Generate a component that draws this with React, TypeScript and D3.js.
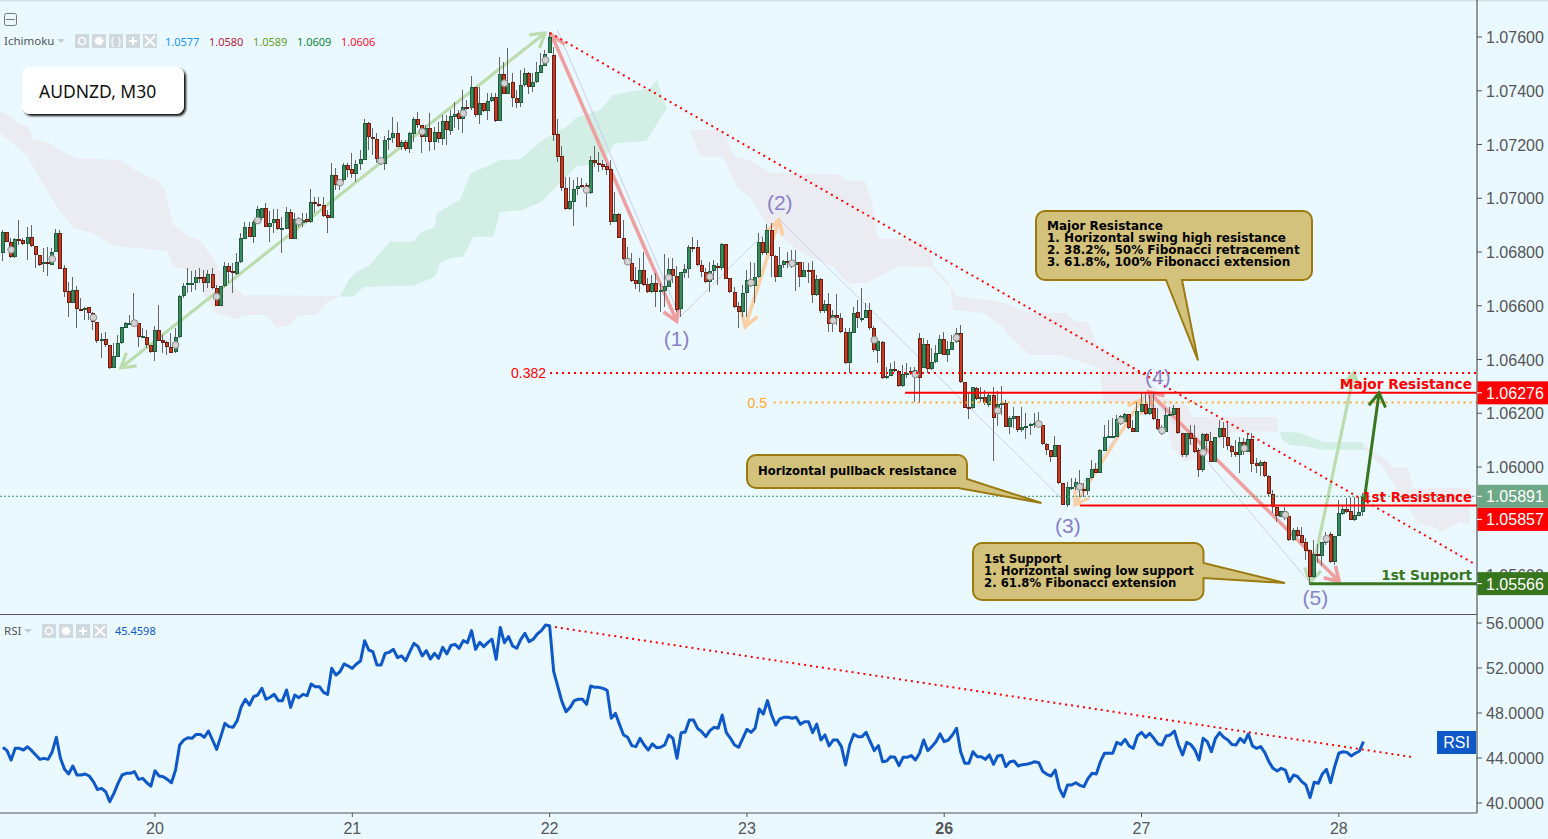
import { scaleLinear, line, path as d3path } from "d3";

// all candle and cloud values are pips above 1.05000, [open, high, low, close]
type Bar = [number, number, number, number];

const day19: Bar[] = [
  [179.5,188.2,176.8,187.3],[187.3,187.3,183.9,183.9],[183.9,185.1,177.7,178],[178,185.1,177.7,184.7],[184.7,191.9,182.6,184.2],
  [184.5,185.1,182.6,182.9],[182.9,189.4,177,185.5],[185.5,190.1,182,182.2],[182.4,182.4,174,178.7],[178.8,178.8,174.8,175.2],
  [175.4,181.4,172.7,176.2],[176.2,182,171.2,175.4],[175.2,181.4,175.2,180.1],[180.1,188.4,180.1,187],[187,188.2,173.6,173.8],
  [174,175,163.4,165.3],[165.5,169,155.7,161.2],[161.2,170.6,160.9,165.9],[165.9,167.4,151.9,158.7],[158.8,162.8,158.2,158.6],
  [158.6,159.7,154.7,159.3],[159.4,159.7,154.7,157.2],[157.2,157.8,151,153.8],[154,154,146,146.7],[146.7,149.8,140.5,147.5],
  [147.5,150.3,144.8,145.3],[145.3,145.3,136.4,137],[137,146,136.7,141.3],[141.1,149.1,140.8,146],[146,152,145.8,152],
  [151.6,154.1,151.6,153.5],[153.2,156.6,152.9,153.6],[153.7,164.6,152.9,152.9],[153.7,153.7,144.8,148.3],[148.3,151.6,147.9,148.8],
  [148.5,151,144.2,145.3],[145.3,145.3,142.6,142.7],
];
const day20: Bar[] = [
  [142.7,152.5,139.6,150.8],[150.8,160.3,146.7,147],[147.3,149.1,142.3,146.3],[146.4,146.7,141.7,144.8],[144.8,149.8,142.3,142.6],
  [142.7,151.6,142.6,148.3],[148.3,164,147.9,163.8],[163.8,168.4,163,167.5],[167.6,174,164.6,168.4],[168.2,173,165.3,168.5],
  [168.4,173.3,165.9,170.6],[170.6,174,168.4,170.5],[170.6,173.3,165.3,168.4],[168.4,173.3,166.5,171.7],[171.7,174,166.1,166.5],
  [166.5,167.7,160,160],[160,167.4,160,167.4],[167.4,176.4,167.1,174.8],[174.8,175.8,168.4,172.7],[173,175.8,164.6,172.1],
  [171.8,179.5,171.5,176.2],[176.2,187,175.8,185.1],[184.9,191.3,184.7,189.4],[189.4,191.3,185.5,185.7],[185.7,192,183.5,191.1],
  [191.1,197.1,190.4,195.9],[192.5,196.3,192,196.3],[196.3,198.4,189.2,189.4],[189.4,195.4,183.9,190.9],[190.9,195.9,187,192.2],
  [192.2,195.9,188.2,188.5],[188.5,193.2,179.5,188.8],[188.7,196.9,188.4,194.9],[194.9,195.9,185,185],[185,194.4,184.7,192.4],
  [192.4,193.2,189.4,192],[190.7,194.4,189.4,192],[192.2,194.4,190.7,191.3],[191.3,203.3,190.9,198.5],[198.6,200.6,194.4,197.7],
  [197.7,200.6,196.9,197.1],[197.4,200.6,193.2,193.5],[193.6,195.6,187,192.5],[192.5,213,192.5,208.5],[208.5,211.1,203.1,204.8],
  [204.5,206.2,203,206],[206.8,213,206.2,212.3],[212.3,213,208,210.5],
];
const day21: Bar[] = [
  [210.8,217,207.4,209],[209,214.2,206.2,212.8],[212.8,218,210.5,214.5],[214.2,229.5,214.2,227.9],[227.9,228.5,218,222.7],
  [222.7,226,216.1,222],[222,224.2,213,214.5],[214.5,214.9,212.4,212.8],[212.8,223,210.5,221.6],[221.6,225.4,218,222.3],
  [222.3,230.4,220.4,224.2],[224.2,228.5,219,219.2],[219.2,221.7,218,220.8],[220.8,221.7,217.7,218.3],[218.3,224.8,216.7,224.2],
  [224,230.1,221,229.5],[229.5,232.2,226,227.1],[227.1,227.1,217,222.7],[222.7,227.3,221,226],[226,231.6,217.7,221],
  [221,226.6,218,224.8],[224.5,228.5,220.4,222.2],[222.2,231,219.8,228.8],[228.8,231,219.8,225.4],[225.2,232.8,223.5,230.6],
  [230.4,236,226,231.2],[231.6,232.8,225.4,229.4],[229.4,240.3,224.2,234.1],[234.1,236.6,232.8,233.3],[233.4,245.5,232.8,241.3],
  [241.3,241.3,230.4,231],[230.8,241.3,227.6,235.3],[235.3,235.3,232.2,232.6],[232.6,239,229,236],[236,239,236,237.6],
  [237.6,239,228.5,228.9],[228.9,252.7,228.9,246.2],[246.2,250.8,238.8,238.8],[238.8,255.8,238.8,242.8],[243.1,246.5,233.8,237.2],
  [237.2,240.3,233.5,235.6],[235.6,247.7,234,242.1],[242.1,248.3,241.5,246.5],[246.5,247.1,238.8,241.5],[241.5,246.5,239.6,243.2],
  [243.1,250.8,242.8,247.1],[246.7,253.9,246.5,249.6],[249.3,255.2,249.3,253.5],
];
const day22: Bar[] = [
  [253.9,261.9,253.9,260.1],[253.3,256.4,221.4,223.5],[223.8,229.5,213.6,215.5],[215.7,219.4,202.8,203.7],[203.7,208,195.6,196],
  [196,208,195.6,199],[198.7,206.8,189.8,203.3],[203.3,208,201.2,204.6],[205,207.4,203.7,204.3],[205,205.6,196.9,201.8],
  [201.8,215.7,201.6,214.2],[214.2,219.4,211.8,213],[213,217.3,209.9,212.4],[212.7,214.2,210.5,211.7],[212,213,208.7,210.5],
  [210.9,214.2,190,191.3],[191.3,202.5,191.3,194.1],[194.1,194.4,185.1,185.1],[185.1,191.9,177,177.4],[175.2,182,175.2,177.7],
  [175.8,179.5,169,169.3],[169.6,174.6,166.1,168.1],[168.1,177.7,165.3,173.3],[173.3,180.1,167.4,167.7],[168,170.2,164.9,165.3],
  [165.3,171.5,164.9,168.4],[168.4,172.1,159.7,165.3],[165.3,168.4,157.8,165.9],[165.6,179.3,159.7,167.3],[167.1,177.7,167.1,173.6],
  [173.6,177.7,168.3,171.1],[171.2,174.8,157.8,158.4],[158.7,172.7,156,172.4],[172.3,175.6,170.2,173.6],[173.6,182.6,170.2,181.7],
  [181.7,185.7,180.1,181.5],[181.7,184.4,174.8,175],[175,177,170.8,172.4],[172.4,173.9,168.4,168.7],[168.7,176.4,165.3,173],
  [173,177,169.6,175],[174.9,175.8,167.7,173.9],[173.9,183.5,173.3,183],[183,183,169.8,170.1],[170.2,170.2,164.6,165],
  [165,167.1,159,159.7],[159.9,161.5,151.6,157.8],[157.8,167.7,156,164.6],
];
const day23: Bar[] = [
  [164.6,173.3,156,169.6],[169.8,176.4,167.1,167.3],[167.3,175.8,160.9,170.6],[170.6,187,170.2,183.6],[183.6,185.7,178.9,179.5],
  [179.5,190.4,178.9,188.2],[188.2,190.7,170.8,178.6],[178.6,178.9,169,170.8],[170.8,182,170.8,175.2],[175,177,173.9,176.7],
  [176.7,180.1,173.9,176.2],[176.4,180.8,173.9,175.2],[175.2,180.8,165.6,176.4],[176.2,176.4,167.1,170.8],[170.8,176.4,170.8,173.3],
  [173.3,175.8,168.4,173.2],[173.3,176.8,160.9,164],[164,171.5,163.6,170],[170,170.2,157.2,158],[158,162.2,157.2,160.5],
  [160.5,164.6,150.4,153.1],[153.1,158.4,150.4,156.6],[156.6,164.4,152.9,155.6],[155.6,157.2,149.8,150.4],[150.4,151.6,138.3,138.6],
  [138.6,151.6,134.9,150.1],[150,159.7,149.8,157.4],[157.5,162.2,151.6,155.3],[155.1,166.5,154.1,155.6],[155.6,160.9,155.3,158.4],
  [158.4,160.9,151,151.6],[151.6,152.5,142.9,143.6],[143.3,146.7,138.8,146.7],[146.4,146.7,132.7,133],[133,137.3,132.7,134],
  [134,138.6,133.9,136.4],[136.4,139.6,135.5,135.9],[135.9,136.1,129.9,130.3],[130.3,138,129.9,134.6],[134.6,138.8,133,134.9],
  [135.9,137.3,134.2,134.9],[134.2,137.3,124.3,136.1],[147.9,149.8,123.7,133],[137,147.9,136.7,145.8],[145.8,147.3,134.9,136.4],
  [136.4,144.2,136.1,139.2],[139,145.4,138.6,142.3],[142,149.1,141.9,147.5],
];
const day26: Bar[] = [
  [147.5,150.4,141.5,141.7],[141.7,146.7,139.2,143.8],[143.6,149.1,143.6,146.4],[146.4,151.6,146,150],[150,152.9,131.4,131.8],
  [131.8,131.8,121.9,122.1],[122.5,127.4,117.8,121.9],[121.9,129.9,121.5,129.7],[129.5,129.9,125,125.2],[125.2,129.9,124.3,126],
  [126,128.7,123.1,123.7],[123.1,127.4,122.5,126.7],[126.7,129.9,102.3,118.1],[119.6,128.1,115.4,123.4],[123.1,130,119.4,123.7],
  [123.7,125,114.7,115],[115,118.8,112.2,118.1],[118,122.5,114.4,118.8],[119.1,119.1,113,113.6],[113.6,122.2,113.2,114.8],
  [114.8,120,110.5,115.3],[115.1,116.3,112,116],[115.7,120,114.4,116.5],[116.9,120.6,115,115.7],[115.7,115.7,108.2,108.5],
  [108.5,108.9,104.5,106.2],[106.2,106.4,101.8,103.9],[103.9,111.6,103.9,108.2],[108.2,108.2,93.6,94],[94,94,85.7,85.7],
  [85.7,94.6,85.3,92.5],[92.5,95.8,91.5,92.6],[92.4,95.8,91.5,94.3],[94,98.9,89,91.5],[91.7,94,89,90.9],
  [90.9,95.8,89.4,95.8],[95.8,102.6,95.6,99.3],[99.3,101.4,97.7,97.9],[97.9,106.7,97.7,106.4],[106.1,115.7,106,111.1],
  [111.1,117.5,110.7,111.4],[111.3,118.1,110.7,111.6],[111.3,119.4,111.1,117.8],[116,119.4,115.7,119.1],[116.9,120,116.9,119.6],
  [119.6,119.6,114.2,114.4],[114.4,117.5,112.9,113.2],[113.2,124.3,113.2,120.9],
];
const day27: Bar[] = [
  [120.6,127.4,120.6,123.5],[123.5,127.4,119.4,119.6],[119.6,126.8,119.4,122],[122,127.4,117.5,117.8],[117.8,121.9,113.8,114.1],
  [112.6,115.7,112,114.4],[113,121.9,113,119.4],[119.1,122.5,119,119.8],[119.4,123.1,119.1,122],[121.9,122.1,112.3,112.6],
  [112.6,112.6,103.9,104.3],[104.3,112.6,103.9,112.6],[112.6,115.7,108.2,110.6],[110.7,115.7,105.1,105.7],[106.4,107,96.2,98.7],
  [98.7,112.6,98.3,112.2],[112.2,112.6,105.7,109.8],[109.8,113.2,102,102],[102,111,101.8,111],[111,117.5,110.7,114.4],
  [114.4,116.9,107,111],[111,116.3,106.4,108],[108,108.2,103.9,105.5],[105.5,110.1,103.9,104.3],[104.3,111,97.7,109.2],
  [109.2,110.7,104.5,105.7],[105.5,112.6,105.4,110.3],[110.3,112.6,98.3,101.3],[101.4,103.3,97.7,100.5],[100.5,102.6,96.7,101.8],
  [101.8,102.4,96.4,96.8],[96.8,97.1,89.2,89.9],[89.9,91.5,83,85],[85,85.3,79.7,81.6],[81.3,83.8,81.3,83.5],
  [83.5,85.3,80.3,81.6],[81.6,81.8,72.3,72.9],[72.9,77.2,72.6,76.6],[76.6,77.6,74.1,74.4],[74.6,77.8,71.6,71.9],
  [72,73.5,65.4,68.9],[69,69.2,56.1,59.2],[59.2,72.9,58.6,67.7],[67.7,71.4,64.2,66.7],[66.7,72,63,72],
  [71.6,76,71,74.1],[75.1,76,64.4,64.8],[64.8,74.4,63.6,74.4],
];
const day28: Bar[] = [
  [74.4,87.8,74.4,82.8],[82.6,85.9,82.2,84.3],[84.3,88.4,82.8,83.4],[83.7,89,80.1,80.1],[80.1,89,80,82.2],[81.9,89,81.8,83.3],[83.1,90.2,81.8,89],
];
const bars = [...day19, ...day20, ...day21, ...day22, ...day23, ...day26, ...day27, ...day28];
const FIRST_BAR = -37; // bar 0 is the first candle of the 20th

// grey dots every 10 candles, starting from bar -35
const dotPrices = [180.8,177.4,155.6,153.5,145.4,163.4,191.7,191.3,205.8,213.9,224.8,231.6,242.8,251.4,203.1,176.4,170.5,170.8,168.6,175.8,154.5,147.3,134.5,148.1,121,116,92.6,117.3,113.6,105.4,107,82.2,73.3];

// clouds: outline as bar / pip pairs
const cloudGrey1Bars = [-37.7,-35.3,-32.8,-30.8,-29.6,-26.3,-23.9,-20.7,-19,-8.5,-3.6,0.4,2.4,4.5,8.5,11,13.8,15.8,17.5,21.5,45,41.8,39.3,34.9,32.9,29.6,27.2,21.5,19.9,15,11.8,11,7.7,4.5,2.9,-10.1,-15,-19.9,-23.9,-28.8,-31.2,-34.5,-37.7];
const cloudGrey1Pips = [232.5,230.4,227.6,226.9,221.7,221.1,218.6,216.1,214.9,214.2,209.3,206.8,203.1,190.1,185.7,184.5,178.3,173.3,169.6,164,163.6,160.9,156.6,156.6,152.9,151.6,156.6,156.6,155,157.2,164.6,170.8,173.3,174.6,180.5,182.2,187,188.8,196.9,209.3,216.1,220.4,224.2];
const cloudGreen1Bars = [45,47.1,49.1,51.9,57.2,62.9,64.5,68.1,68.5,74.2,76.7,79.1,83.9,88.8,94.4,100.1,102.6,108.2,111.5,118,120.4,122,124.5,119.6,111.9,108.2,102.6,96.9,94,89.2,83.9,82.3,77.5,75,71.8,69.4,68.1,62.9,50.7,48.3];
const cloudGreen1Pips = [163.4,169.6,172.7,174.6,183.9,183.9,187,189.4,194.4,199.4,209.3,210.8,214.2,214.5,221.7,226.6,230.1,232.8,238.4,240.3,240.9,244,233.5,221.4,220.4,213,211.8,203.1,198.7,195.4,195,185.7,185.7,178.3,177.7,175.8,170.8,167.4,167.1,163.4];
const cloudGrey2Bars = [130.2,137.9,141.1,145.6,149.6,166.7,168.3,172.7,174.4,176,185.3,188.6,189.4,192.6,195.1,205.6,212.9,221.9,223.8,227,229.4,238.9,241.6,245.5,248.2,251.3,252.3,273,273.2,262,257.9,254.3,250.6,247.4,246.2,242.1,230.7,229.7,220.2,212.9,208.8,205.6,201.5,194.2,193.4,188.6,180.8,173.2,168.4,165,158.6,155.2,148.4,144.8,141.6,138.2,132.6];
const cloudGrey2Pips = [225.4,225.4,215.5,213.6,209.5,208.7,206.5,206.5,198.1,185.1,184.5,182,174.5,169.6,163.4,161.5,157.3,157.3,154,154,144.7,136.9,132.4,126.1,123.8,122.4,118.6,118.6,113.1,113.1,107.5,103.4,101.9,107.5,115.7,123.5,124.2,136.9,141.7,141.7,147.3,152.9,157.3,158.4,167,174.4,174.8,168.5,168.5,174.4,178.9,181.9,191.2,200.5,204.2,215.4,215.4];
const cloudGreen2Bars = [273.7,278.6,281.8,284.2,293.9,294.4,283.9,280.3,276.2,274.2];
const cloudGreen2Pips = [113.1,112.7,110.8,109.3,109.3,106.4,106.4,107.5,108.2,110.1];
const cloudGrey3Bars = [294.4,296.3,299.8,301.2,304.9,306.1,319.9,319.9,317.5,313.1,310.9,307.1,302.2,299.3,294.4];
const cloudGrey3Pips = [108.9,105.6,102.6,99.7,99.7,92.2,92.2,78.5,79.6,75.9,77.7,79.2,91.5,98.9,106.4];

const rsiValues = [
  44.95,44.65,43.82,44.86,44.86,44.71,45,44.65,44.27,43.88,43.97,43.88,44.56,45.84,43.97,42.99,42.58,43.29,42.49,42.49,42.58,42.4,41.9,41.2,41.3,41,40.12,40.86,41.75,42.49,42.64,42.64,42.79,42.1,42.19,41.8,41.5,
  42.87,42.4,42.34,42.1,41.8,42.93,45.16,45.6,45.8,45.75,46.1,46.1,45.84,46.4,45.6,44.77,45.9,47.08,46.79,46.73,47.32,48.56,49.22,48.71,49.45,49.6,50.2,49.22,49.4,49.66,49.1,49.1,50.05,48.5,49.6,49.36,49.66,49.54,50.58,50.34,50.34,49.84,49.66,51.97,51.38,51.67,52.36,52.18,
  51.97,52.36,52.62,54.43,53.6,53.45,52.27,52.27,53.3,53.4,53.66,52.92,53.07,52.65,53.45,54.19,53.9,53.07,53.54,52.8,53.3,52.86,53.84,53.25,54,54.1,53.75,54.43,54.25,55.32,53.66,54.28,53.9,54.28,54.55,52.77,55.6,54.25,54.79,53.96,53.75,54.55,55.08,54.34,54.55,55.02,55.32,55.82,
  55.76,51.67,50.34,49.01,48.12,48.5,49.1,49.22,49.22,48.77,50.4,50.28,50.28,50.19,50.02,47.53,47.97,46.99,46.05,45.84,45.1,45.01,45.75,45.16,44.71,45.25,44.92,44.95,45.16,46.05,45.75,43.97,46.25,46.31,47.38,47.38,46.64,46.34,45.9,46.43,46.73,46.64,47.82,46.25,45.75,45.16,44.95,45.75,
  46.55,46.28,46.64,48.36,47.91,49.1,47.82,46.93,47.47,47.62,47.62,47.53,47.62,46.99,47.23,47.23,46.25,47.02,45.6,46.05,45.07,45.6,45.6,45.01,43.38,45.16,46.11,45.9,45.9,46.28,45.45,44.66,45.1,43.67,43.73,44.12,44.06,43.32,44.06,44.06,44.21,43.82,44.42,45.6,44.66,45.01,45.45,46.14,
  45.45,45.6,46.05,46.64,44.56,43.53,43.53,44.56,44.12,44.12,43.88,44.27,43.44,44.18,44.24,43.23,43.67,43.73,43.29,43.41,43.44,43.53,43.67,43.58,42.79,42.55,42.4,42.93,41.3,40.56,41.6,41.6,41.8,41.57,41.45,42.19,42.64,42.58,43.67,44.42,44.42,44.42,45.39,45.2,45.66,45.07,44.86,45.96,
  46.28,45.84,46.19,45.75,45.25,45.16,45.96,46.05,46.4,45.16,44.27,45.39,45.2,44.71,43.82,45.75,45.45,44.56,45.75,46.25,45.84,45.6,45.2,45.16,45.75,45.39,46.13,45.07,44.86,45.01,44.47,43.67,43.08,42.84,43.08,42.93,41.9,42.49,42.34,41.9,41.6,40.48,41.84,41.75,42.58,42.99,41.8,43.23,
  44.42,44.56,44.5,44.18,44.42,44.6,45.45,
];

const priceTicks = [1.076,1.074,1.072,1.07,1.068,1.066,1.064,1.062,1.06,1.058,1.056];
const rsiTicks = [56,52,48,44,40];
const dayLabels = ["20","21","22","23","26","27","28"];
const dayBars = [0,48,96,144,192,240,288];
const legendValues = ["1.0577","1.0580","1.0589","1.0609","1.0606"];
const legendColors = ["#2196f3","#b71c3c","#6a9f1e","#0b8a3a","#ff0f2f"];

// drawn studies: [bar, pips]
const trendMain = [[96.1,261.5],[321.4,63.6]];
const arrowLines = [
  { from: [-8.3,136.9], to: [94.9,261.5], color: "#bcdcae", width: 3.2, both: true },
  { from: [96.5,260.7], to: [126.9,154.3], color: "#ee9f9f", width: 3.6, both: true },
  { from: [151.8,191.9], to: [143.6,152.1], color: "#fbcfa4", width: 3.6, both: true },
  { from: [223.8,85.9], to: [240.1,125.3], color: "#fbcfa4", width: 3.2, both: true },
  { from: [241.8,127.9], to: [288.1,57.4], color: "#ee9f9f", width: 3.6, both: true },
  { from: [281,57], to: [291.7,135.1], color: "#bcdcae", width: 3.2, both: true },
];
const targetArrow = { from: [294.2,87.8], to: [297.8,127.6], color: "#38761d", width: 3, both: false };
const waveBars = [97.8,127.7,151.8,222.1,241.6,281];
const wavePips = [263,155.8,192.3,85.9,128,56.9];
const waveLabels = [
  { text: "(1)", bar: 126.9, pips: 145 },
  { text: "(2)", bar: 152, pips: 195.5 },
  { text: "(3)", bar: 222.1, pips: 75.5 },
  { text: "(4)", bar: 244, pips: 131 },
  { text: "(5)", bar: 282.3, pips: 48.7 },
];
const FIB_382 = 135;
const FIB_50 = 124;
const rsiTrend = [[97.3,55.64],[305.8,44.09]];

// 1.05857 is pushed down on the axis so it clears the live price box
const priceBoxes = [
  { label: "1.06276", pips: 127.6, fill: "#ff0000", shift: 0 },
  { label: "1.05891", pips: 89.1, fill: "#6ea887", shift: 0 },
  { label: "1.05857", pips: 85.7, fill: "#ff0000", shift: 14 },
  { label: "1.05566", pips: 56.6, fill: "#38761d", shift: 0 },
];
const majorNote = ["Major Resistance","1. Horizontal swing high resistance","2. 38.2%, 50% Fibonacci retracement","3. 61.8%, 100% Fibonacci extension"];
const supportNote = ["1st Support","1. Horizontal swing low support","2. 61.8% Fibonacci extension"];

const W = 1548;
const H = 839;
const AXIS_X = 1477;
const PANE_END = 614.5;
const BOTTOM = 813;
const BG = "#e9f9ff";
const AXIS_COLOR = "#555";
const LABEL_FONT = "'Liberation Sans', Arial, sans-serif";
const NOTE_FONT = "'DejaVu Sans', Verdana, sans-serif";
const UI_FONT = "'Noto Sans', sans-serif";

const xBar = scaleLinear().domain([0, 48]).range([155, 352.3]);
const yPrice = scaleLinear().domain([1.056, 1.076]).range([574.5, 37]);
const yPips = (p: number) => yPrice(1.05 + p / 10000);
const yRsi = scaleLinear().domain([40, 56]).range([803, 623]);

const outline = (xs: number[], ps: number[]) =>
  (line<number>().x(d => xBar(d)).y((_, i) => yPips(ps[i]))(xs) ?? "") + "Z";

function Arrow({ from, to, color, width, both }: { from: number[]; to: number[]; color: string; width: number; both: boolean }) {
  const x1 = xBar(from[0]), y1 = yPips(from[1]), x2 = xBar(to[0]), y2 = yPips(to[1]);
  const head = (tx: number, ty: number, ox: number, oy: number) => {
    const a = Math.atan2(oy - ty, ox - tx);
    const len = 16, spread = 0.55;
    return `M${tx + len * Math.cos(a - spread)},${ty + len * Math.sin(a - spread)}L${tx},${ty}L${tx + len * Math.cos(a + spread)},${ty + len * Math.sin(a + spread)}`;
  };
  return (
    <path
      d={`M${x1},${y1}L${x2},${y2}` + head(x2, y2, x1, y1) + (both ? head(x1, y1, x2, y2) : "")}
      fill="none"
      stroke={color}
      strokeWidth={width}
    />
  );
}

// rounded box with its pointer, corners drawn clockwise
function notePath(x: number, y: number, w: number, h: number, kind: string, tail: number[][]) {
  const r = 9;
  const p = d3path();
  p.moveTo(x + r, y);
  p.lineTo(x + w - r, y);
  p.arcTo(x + w, y, x + w, y + r, r);
  if (kind === "right" || kind === "corner") {
    tail.forEach(t => p.lineTo(t[0], t[1]));
  }
  if (kind !== "corner") {
    p.lineTo(x + w, y + h - r);
    p.arcTo(x + w, y + h, x + w - r, y + h, r);
  }
  if (kind === "bottom") {
    tail.forEach(t => p.lineTo(t[0], t[1]));
  }
  p.lineTo(x + r, y + h);
  p.arcTo(x, y + h, x, y + h - r, r);
  p.lineTo(x, y + r);
  p.arcTo(x, y, x + r, y, r);
  p.closePath();
  return p.toString();
}

function LegendButtons({ xs, y, glyphs }: { xs: number[]; y: number; glyphs: string[] }) {
  return (
    <g>
      {xs.map((x, i) => (
        <g key={x}>
          <rect x={x} y={y} width={14} height={14} fill="#cfd8dc" />
          {glyphs[i] === "eye" && <circle cx={x + 7} cy={y + 7} r={3.5} fill="none" stroke="#fff" strokeWidth={1.6} />}
          {glyphs[i] === "gear" && <circle cx={x + 7} cy={y + 7} r={3.5} fill="#fff" stroke="#fff" strokeDasharray="1.5 1" strokeWidth={2} />}
          {glyphs[i] === "code" && <text x={x + 7} y={y + 11} textAnchor="middle" fontSize={11} fontFamily={LABEL_FONT} fill="#fff">{"{ }"}</text>}
          {glyphs[i] === "plus" && <path d={`M${x + 3},${y + 7}H${x + 11}M${x + 7},${y + 3}V${y + 11}`} stroke="#fff" strokeWidth={2} />}
          {glyphs[i] === "close" && <path d={`M${x + 2},${y + 2}L${x + 12},${y + 12}M${x + 12},${y + 2}L${x + 2},${y + 12}`} stroke="#fff" strokeWidth={1.8} />}
        </g>
      ))}
    </g>
  );
}

export default function App() {
  const rsiPath = line<number>().x((_, i) => xBar(i + FIRST_BAR)).y(d => yRsi(d))(rsiValues) ?? "";
  const wavePath = line<number>().x(d => xBar(d)).y((_, i) => yPips(wavePips[i]))(waveBars) ?? "";

  return (
    <svg width={W} height={H} style={{ position: "absolute", left: 0, top: 0, display: "block" }}>
      <defs>
        <clipPath id="pricePane"><rect x={0} y={0} width={AXIS_X} height={PANE_END} /></clipPath>
        <filter id="boxShadow" x="-10%" y="-10%" width="125%" height="130%">
          <feDropShadow dx={2} dy={2} stdDeviation={0.8} floodColor="#111" floodOpacity={1} />
        </filter>
      </defs>
      <rect width={W} height={H} fill={BG} />
      <rect width={W} height={1.5} fill="#d5dfe4" />

      <g clipPath="url(#pricePane)">
        {/* CLOUDS */}
        <path d={outline(cloudGrey1Bars, cloudGrey1Pips)} fill="#ebecf2" />
        <path d={outline(cloudGreen1Bars, cloudGreen1Pips)} fill="#d3eee5" />
        <path d={outline(cloudGrey2Bars, cloudGrey2Pips)} fill="#ebecf2" />
        <path d={outline(cloudGreen2Bars, cloudGreen2Pips)} fill="#d3eee5" />
        <path d={outline(cloudGrey3Bars, cloudGrey3Pips)} fill="#ebecf2" />

        {/* WAVE COUNT */}
        <path d={wavePath} fill="none" stroke="#c9cfea" strokeWidth={1} />

        {/* ARROWS, the candles sit on top of them */}
        {arrowLines.map((a, i) => <Arrow key={i} {...a} />)}

        {/* CANDLES */}
        {bars.map(([o, h, l, c], i) => {
          const cx = Math.round(xBar(i + FIRST_BAR));
          const up = c >= o;
          const top = Math.round(yPips(Math.max(o, c)));
          const bottom = Math.max(top + 2, Math.round(yPips(Math.min(o, c))));
          return (
            <g key={i} shapeRendering="crispEdges">
              <rect x={cx - 1} y={yPips(h)} width={1} height={yPips(l) - yPips(h)} fill="#666" />
              <rect x={cx - 2} y={top} width={4} height={bottom - top} fill={up ? "#1f5c3b" : "#6a1f14"} />
              {bottom - top > 2 && <rect x={cx - 1} y={top + 1} width={2} height={bottom - top - 2} fill={up ? "#3a8a5e" : "#c93a22"} />}
            </g>
          );
        })}

        {/* DOTS */}
        {dotPrices.map((p, i) => (
          <circle key={i} cx={xBar(-35 + i * 10)} cy={yPips(p)} r={3.4} fill="#d2d2d2" stroke="#888" strokeWidth={1} />
        ))}

        {/* LEVELS */}
        <line x1={0} x2={AXIS_X} y1={yPips(89.1)} y2={yPips(89.1)} stroke="#3f9a68" strokeDasharray="2 2" />
        <line x1={xBar(96.1)} x2={AXIS_X} y1={yPips(FIB_382)} y2={yPips(FIB_382)} stroke="#ff0000" strokeWidth={2} strokeDasharray="2 4" />
        <line x1={xBar(150.5)} x2={AXIS_X} y1={yPips(FIB_50)} y2={yPips(FIB_50)} stroke="#ffa726" strokeWidth={2} strokeDasharray="2 4" />
        <line x1={xBar(182.5)} x2={AXIS_X} y1={yPips(127.6)} y2={yPips(127.6)} stroke="#ff0000" strokeWidth={2} />
        <line x1={xBar(225)} x2={AXIS_X} y1={yPips(85.7)} y2={yPips(85.7)} stroke="#ff0000" strokeWidth={2} />
        <line x1={xBar(281)} x2={AXIS_X} y1={yPips(56.6)} y2={yPips(56.6)} stroke="#38761d" strokeWidth={3} />
        <path d={`M${xBar(trendMain[0][0])},${yPips(trendMain[0][1])}L${xBar(trendMain[1][0])},${yPips(trendMain[1][1])}`} stroke="#ff0000" strokeWidth={2} strokeDasharray="2 4" fill="none" />

        <Arrow {...targetArrow} />

        {waveLabels.map(w => (
          <text key={w.text} x={xBar(w.bar)} y={yPips(w.pips)} textAnchor="middle" fontSize={21} fontFamily={LABEL_FONT} fill="#8a80c8">{w.text}</text>
        ))}

        <text x={546} y={yPips(FIB_382) + 5} textAnchor="end" fontSize={14} fontFamily={LABEL_FONT} fill="#ff0000">0.382</text>
        <text x={767} y={yPips(FIB_50) + 5} textAnchor="end" fontSize={14} fontFamily={LABEL_FONT} fill="#ffa726">0.5</text>

        <text x={1472} y={389} textAnchor="end" fontSize={13.7} fontWeight="bold" fontFamily={NOTE_FONT} fill="#ff0000">Major Resistance</text>
        <text x={1472} y={502} textAnchor="end" fontSize={13.3} fontWeight="bold" fontFamily={NOTE_FONT} fill="#ff0000">1st Resistance</text>
        <text x={1472} y={580} textAnchor="end" fontSize={13.7} fontWeight="bold" fontFamily={NOTE_FONT} fill="#38761d">1st Support</text>
      </g>

      {/* RSI PANE */}
      <path d={rsiPath} fill="none" stroke="#0e58c8" strokeWidth={3} strokeLinejoin="round" />
      <path d={`M${xBar(rsiTrend[0][0])},${yRsi(rsiTrend[0][1])}L${xBar(rsiTrend[1][0])},${yRsi(rsiTrend[1][1])}`} stroke="#ff0000" strokeWidth={2} strokeDasharray="2 4" fill="none" />
      <rect x={1437} y={731} width={39} height={23} fill="#0e58c8" />
      <text x={1456.5} y={748} textAnchor="middle" fontSize={16} fontFamily={LABEL_FONT} fill="#fff">RSI</text>

      {/* AXES */}
      <line x1={0} x2={AXIS_X} y1={PANE_END} y2={PANE_END} stroke={AXIS_COLOR} strokeWidth={1.2} />
      <line x1={0} x2={AXIS_X} y1={BOTTOM} y2={BOTTOM} stroke={AXIS_COLOR} strokeWidth={1.2} />
      <line x1={AXIS_X} x2={AXIS_X} y1={0} y2={BOTTOM} stroke={AXIS_COLOR} strokeWidth={1.2} />
      {priceTicks.map(t => (
        <g key={t}>
          <line x1={AXIS_X} x2={AXIS_X + 5} y1={yPrice(t)} y2={yPrice(t)} stroke={AXIS_COLOR} />
          <text x={1486} y={yPrice(t) + 6} fontSize={16} fontFamily={LABEL_FONT} fill={AXIS_COLOR}>{t.toFixed(5)}</text>
        </g>
      ))}
      {rsiTicks.map(t => (
        <g key={t}>
          <line x1={AXIS_X} x2={AXIS_X + 5} y1={yRsi(t)} y2={yRsi(t)} stroke={AXIS_COLOR} />
          <text x={1486} y={yRsi(t) + 6} fontSize={16} fontFamily={LABEL_FONT} fill={AXIS_COLOR}>{t.toFixed(4)}</text>
        </g>
      ))}
      {dayBars.map((b, i) => (
        <g key={b}>
          <line x1={xBar(b)} x2={xBar(b)} y1={BOTTOM} y2={BOTTOM + 4} stroke={AXIS_COLOR} />
          <text x={xBar(b)} y={834} textAnchor="middle" fontSize={16} fontFamily={LABEL_FONT} fontWeight={dayLabels[i] === "26" ? "bold" : "normal"} fill={AXIS_COLOR}>{dayLabels[i]}</text>
        </g>
      ))}
      {priceBoxes.map(b => {
        const cy = yPips(b.pips) + b.shift;
        return (
          <g key={b.label}>
            <rect x={AXIS_X + 0.5} y={cy - 11.5} width={W - AXIS_X} height={23} fill={b.fill} />
            <line x1={AXIS_X} x2={AXIS_X + 5} y1={cy} y2={cy} stroke="#fff" />
            <text x={1486} y={cy + 6} fontSize={16} fontFamily={LABEL_FONT} fill="#fff">{b.label}</text>
          </g>
        );
      })}

      {/* NOTES */}
      <path d={notePath(1036, 211, 276, 69, "bottom", [[1182, 280], [1198, 360.5], [1166, 280]])} fill="#d3c27b" stroke="#9b7a10" strokeWidth={2} />
      {majorNote.map((t, i) => (
        <text key={t} x={1047} y={230 + i * 12} fontSize={12} fontWeight="bold" fontFamily={NOTE_FONT} fill="#000">{t}</text>
      ))}
      <path d={notePath(747, 455, 220, 33, "corner", [[967, 479], [1041.5, 503], [958, 488]])} fill="#d3c27b" stroke="#9b7a10" strokeWidth={2} />
      <text x={758} y={475} fontSize={11.6} fontWeight="bold" fontFamily={NOTE_FONT} fill="#000">Horizontal pullback resistance</text>
      <path d={notePath(973, 543, 230.5, 57, "right", [[1203.5, 563], [1285, 583], [1203.5, 578]])} fill="#d3c27b" stroke="#9b7a10" strokeWidth={2} />
      {supportNote.map((t, i) => (
        <text key={t} x={984} y={563 + i * 12} fontSize={11.7} fontWeight="bold" fontFamily={NOTE_FONT} fill="#000">{t}</text>
      ))}

      <rect x={22} y={67} width={162} height={47} rx={8} fill="#fff" filter="url(#boxShadow)" />
      <text x={39} y={98} fontSize={17.5} fontFamily={UI_FONT} fill="#111">AUDNZD, M30</text>

      {/* LEGENDS */}
      <rect x={4.5} y={13.5} width={12} height={12} rx={2} fill="none" stroke="#777" />
      <line x1={6} x2={15} y1={19.5} y2={19.5} stroke="#777" />
      <text x={4} y={45} fontSize={11.5} fontFamily={UI_FONT} fill="#555">Ichimoku</text>
      <path d="M57,39h8l-4,4z" fill="#c4ccd0" />
      <LegendButtons xs={[75, 92, 109, 126, 143]} y={34} glyphs={["eye", "gear", "code", "plus", "close"]} />
      {legendValues.map((v, i) => (
        <text key={v} x={165 + i * 44} y={46} fontSize={11} fontFamily={UI_FONT} fill={legendColors[i]}>{v}</text>
      ))}
      <text x={4} y={635} fontSize={11.5} fontFamily={UI_FONT} fill="#555">RSI</text>
      <path d="M24,629h8l-4,4z" fill="#c4ccd0" />
      <LegendButtons xs={[42, 59, 76, 93]} y={624} glyphs={["eye", "gear", "plus", "close"]} />
      <text x={115} y={635} fontSize={11} fontFamily={UI_FONT} fill="#0e58c8">45.4598</text>
    </svg>
  );
}
